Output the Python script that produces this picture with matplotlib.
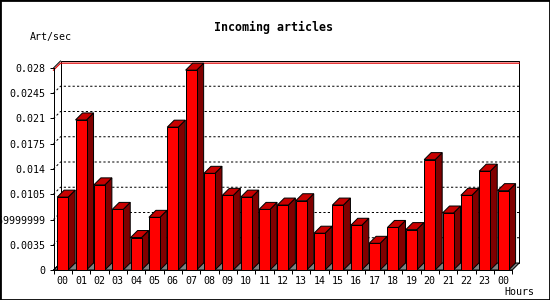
#!/usr/bin/env python3
"""Incoming articles per hour, drawn as fake-3D bars in the old GD chart style."""

import matplotlib

matplotlib.use("Agg")
import matplotlib.pyplot as plt  # noqa: E402
from matplotlib.patches import Polygon, Rectangle  # noqa: E402

hours = ["00", "01", "02", "03", "04", "05", "06", "07", "08", "09", "10", "11",
         "12", "13", "14", "15", "16", "17", "18", "19", "20", "21", "22", "23", "00"]
rates = [0.0101, 0.0208, 0.0118, 0.0084, 0.0045, 0.0073, 0.0198, 0.0277, 0.0134,
         0.01035, 0.0101, 0.0084, 0.0090, 0.0096, 0.0051, 0.0090, 0.0062, 0.0037,
         0.0059, 0.0056, 0.0153, 0.0079, 0.01035, 0.0137, 0.0110]
yticks = [0, 0.0035, 0.007, 0.0105, 0.014, 0.0175, 0.021, 0.0245, 0.028]
ytick_labels = ["0", "0.0035", "0.0069999999", "0.0105", "0.014", "0.0175",
                "0.021", "0.0245", "0.028"]

FRONT = "#ff0000"
TOP = "#c80000"
SIDE = "#800000"
FLOOR = "#808080"
LW = 0.72  # one pixel at 100 dpi
FONT = "DejaVu Sans Mono"

W, H = 550, 300
fig = plt.figure(figsize=(W / 100, H / 100), dpi=100, facecolor="white")
# front plane of the chart, in pixels: x 53.5..512.25, y 68..270
ax = fig.add_axes([53.5 / W, 30 / H, 458.75 / W, 202 / H])
ax.set_facecolor("none")
ymax = yticks[-1]
ax.set_xlim(-0.5, len(hours) - 0.5)
ax.set_ylim(0, ymax)

# depth offset of the 3D extrusion, in data units (about 7 px each way)
DX = 7 / 18.35
DY = 7 / 7214
x0, x1 = -0.5, len(hours) - 0.5

# back wall and floor
ax.add_patch(Rectangle((x0 + DX, DY), x1 - x0, ymax, fc="white", ec="black",
                       lw=LW, clip_on=False, zorder=0.5))
ax.add_patch(Polygon([(x0, 0), (x1, 0), (x1 + DX, DY), (x0 + DX, DY)], closed=True,
                     fc=FLOOR, ec="black", lw=LW, clip_on=False, zorder=1))
ax.plot([x0, x0 + DX], [ymax, ymax + DY], color="black", lw=LW, clip_on=False, zorder=2)
ax.plot([x0, x0 + DX], [0, DY], color="black", lw=LW, clip_on=False, zorder=2)

# dashed gridlines on the back wall
for v in yticks[1:-1]:
    ax.plot([x0, x0 + DX, x1 + DX], [v, v + DY, v + DY], color="black", lw=LW,
            ls=(0, (2.2, 2.2)), clip_on=False, zorder=1.5)

# line at the peak value
peak = max(rates)
ax.plot([x0, x0 + DX, x1 + DX], [peak, peak + DY, peak + DY], color="#e00000",
        lw=LW * 1.2, clip_on=False, zorder=1.6)

# bars
half = 0.3
for i, v in enumerate(rates):
    z = 3 + i * 0.01
    ax.add_patch(Polygon([(i + half, 0), (i + half + DX, DY), (i + half + DX, v + DY),
                          (i + half, v)], closed=True, fc=SIDE, ec="black", lw=LW,
                         clip_on=False, zorder=z))
    ax.add_patch(Polygon([(i - half, v), (i + half, v), (i + half + DX, v + DY),
                          (i - half + DX, v + DY)], closed=True, fc=TOP, ec="black",
                         lw=LW, clip_on=False, zorder=z))
    ax.add_patch(Rectangle((i - half, 0), 2 * half, v, fc=FRONT, ec="black", lw=LW,
                           clip_on=False, zorder=z + 0.005))

for side in ("top", "right"):
    ax.spines[side].set_visible(False)
for side in ("left", "bottom"):
    ax.spines[side].set_linewidth(LW)
    ax.spines[side].set_zorder(2.5)

ax.set_yticks(yticks)
ax.set_yticklabels(ytick_labels, fontfamily=FONT, fontsize=7.2)
ax.tick_params(axis="y", length=3, width=LW, pad=2.5)

ax.set_xticks(range(len(hours)))
ax.set_xticklabels(hours, fontfamily=FONT, fontsize=7.2)
ax.set_xticks([k + 0.5 for k in range(-1, len(hours))], minor=True)
ax.tick_params(axis="x", which="major", length=0, pad=4.3)
ax.tick_params(axis="x", which="minor", length=3, width=LW)

fig.text(273.5 / W, 1 - 27 / H, "Incoming articles", ha="center", va="center",
         fontfamily=FONT, fontsize=8.4, fontweight="bold")
fig.text(30 / W, 1 - 37 / H, "Art/sec", ha="left", va="center",
         fontfamily=FONT, fontsize=7.2)
fig.text(504 / W, 1 - 292 / H, "Hours", ha="left", va="center",
         fontfamily=FONT, fontsize=7.2)

fig.patches.append(Rectangle((0, 0), 1, 1, transform=fig.transFigure, fill=False,
                             ec="black", lw=2, zorder=10))

fig.savefig("out.png", dpi=100, facecolor="white")
